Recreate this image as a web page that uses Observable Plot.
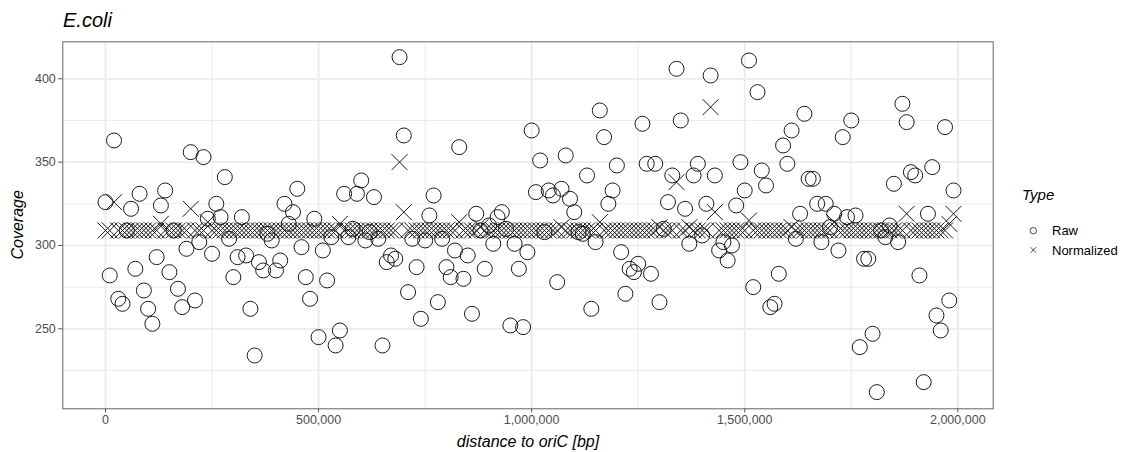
<!DOCTYPE html>
<html>
<head>
<meta charset="utf-8">
<script src="https://cdn.jsdelivr.net/npm/d3@7"></script>
<script src="https://cdn.jsdelivr.net/npm/@observablehq/plot@0.6"></script>
<style>
  html, body { margin: 0; padding: 0; background: #fff; }
  #chart { position: relative; width: 1130px; height: 452px; }
</style>
</head>
<body>
<div id="chart"></div>
<script>
// ---- data (distance to oriC in bp, coverage) ----
const distance = [
  0, 10000, 20000, 30000, 40000, 50000, 60000, 70000, 80000, 90000,
  100000, 110000, 120000, 130000, 140000, 150000, 160000, 170000, 180000, 190000,
  200000, 210000, 220000, 230000, 240000, 250000, 260000, 270000, 280000, 290000,
  300000, 310000, 320000, 330000, 340000, 350000, 360000, 370000, 380000, 390000,
  400000, 410000, 420000, 430000, 440000, 450000, 460000, 470000, 480000, 490000,
  500000, 510000, 520000, 530000, 540000, 550000, 560000, 570000, 580000, 590000,
  600000, 610000, 620000, 630000, 640000, 650000, 660000, 670000, 680000, 690000,
  700000, 710000, 720000, 730000, 740000, 750000, 760000, 770000, 780000, 790000,
  800000, 810000, 820000, 830000, 840000, 850000, 860000, 870000, 880000, 890000,
  900000, 910000, 920000, 930000, 940000, 950000, 960000, 970000, 980000, 990000,
  1000000, 1010000, 1020000, 1030000, 1040000, 1050000, 1060000, 1070000, 1080000, 1090000,
  1100000, 1110000, 1120000, 1130000, 1140000, 1150000, 1160000, 1170000, 1180000, 1190000,
  1200000, 1210000, 1220000, 1230000, 1240000, 1250000, 1260000, 1270000, 1280000, 1290000,
  1300000, 1310000, 1320000, 1330000, 1340000, 1350000, 1360000, 1370000, 1380000, 1390000,
  1400000, 1410000, 1420000, 1430000, 1440000, 1450000, 1460000, 1470000, 1480000, 1490000,
  1500000, 1510000, 1520000, 1530000, 1540000, 1550000, 1560000, 1570000, 1580000, 1590000,
  1600000, 1610000, 1620000, 1630000, 1640000, 1650000, 1660000, 1670000, 1680000, 1690000,
  1700000, 1710000, 1720000, 1730000, 1740000, 1750000, 1760000, 1770000, 1780000, 1790000,
  1800000, 1810000, 1820000, 1830000, 1840000, 1850000, 1860000, 1870000, 1880000, 1890000,
  1900000, 1910000, 1920000, 1930000, 1940000, 1950000, 1960000, 1970000, 1980000, 1990000
];

const rawCoverage = [
  326, 282, 363, 268, 265, 309, 322, 286, 331, 273,
  262, 253, 293, 324, 333, 284, 309, 274, 263, 298,
  356, 267, 302, 353, 316, 295, 325, 317, 341, 304,
  281, 293, 317, 294, 262, 234, 290, 285, 307, 303,
  285, 291, 325, 313, 320, 334, 299, 281, 268, 316,
  245, 297, 279, 305, 240, 249, 331, 305, 310, 331,
  339, 303, 308, 329, 304, 240, 290, 294, 292, 413,
  366, 272, 304, 287, 256, 303, 318, 330, 266, 304,
  287, 281, 297, 359, 280, 294, 259, 319, 309, 286,
  312, 301, 317, 320, 310, 252, 301, 286, 251, 296,
  369, 332, 351, 308, 333, 330, 278, 334, 354, 328,
  320, 308, 307, 342, 262, 302, 381, 365, 325, 333,
  348, 296, 271, 286, 284, 289, 373, 349, 283, 349,
  266, 310, 326, 342, 406, 375, 322, 301, 342, 349,
  306, 325, 402, 342, 297, 302, 291, 300, 324, 350,
  333, 411, 275, 392, 345, 336, 263, 265, 283, 360,
  349, 369, 304, 319, 379, 340, 340, 325, 302, 325,
  311, 319, 297, 365, 317, 375, 318, 239, 292, 292,
  247, 212, 309, 305, 312, 337, 302, 385, 374, 344,
  342, 282, 218, 319, 347, 258, 249, 371, 267, 333
];

const normalizedCoverage = [
  309, 309, 326, 309, 309, 309, 309, 309, 309, 309,
  309, 309, 309, 313, 309, 309, 309, 309, 309, 309,
  322, 309, 309, 309, 314, 309, 309, 309, 309, 309,
  309, 309, 309, 309, 309, 309, 309, 309, 309, 309,
  309, 309, 309, 309, 309, 309, 309, 309, 309, 309,
  309, 309, 309, 309, 309, 313, 309, 309, 309, 309,
  309, 309, 309, 309, 309, 309, 309, 309, 309, 350,
  320, 309, 309, 309, 309, 309, 309, 309, 309, 309,
  309, 309, 309, 314, 309, 309, 309, 309, 311, 309,
  309, 309, 309, 309, 309, 309, 309, 309, 309, 309,
  309, 309, 309, 309, 309, 309, 309, 311, 309, 309,
  309, 309, 309, 309, 309, 309, 314, 309, 309, 309,
  309, 309, 309, 309, 309, 309, 309, 309, 309, 309,
  311, 309, 309, 309, 338, 309, 309, 311, 309, 309,
  309, 309, 383, 320, 309, 309, 309, 309, 309, 309,
  309, 315, 309, 309, 309, 309, 309, 309, 309, 309,
  309, 311, 309, 309, 309, 309, 309, 309, 309, 309,
  309, 314, 309, 309, 309, 309, 309, 309, 309, 309,
  309, 309, 309, 309, 309, 309, 309, 309, 319, 309,
  309, 309, 309, 309, 309, 309, 309, 309, 313, 319
];

const xTicks = [0, 500000, 1000000, 1500000, 2000000];
const xMinor = [250000, 750000, 1250000, 1750000];
const yTicks = [250, 300, 350, 400];
const yMinor = [225, 275, 325, 375];
const typeLabels = ["Raw", "Normalized"];

// ---- build rows ----
const rows = [];
distance.forEach((d, i) => {
  rows.push({distance: d, coverage: rawCoverage[i], type: typeLabels[0]});
  rows.push({distance: d, coverage: normalizedCoverage[i], type: typeLabels[1]});
});
const rawRows = rows.filter(r => r.type === "Raw");
const normRows = rows.filter(r => r.type === "Normalized");

const FONT = "'Liberation Sans', Arial, Helvetica, sans-serif";
const INK = "#1a1a1a";

const plot = Plot.plot({
  width: 1130,
  height: 452,
  marginLeft: 62.3,
  marginRight: 137.3,
  marginTop: 41.3,
  marginBottom: 43.7,
  style: {fontFamily: FONT, fontSize: "12.5px", color: "#4d4d4d", background: "#fff"},
  x: {domain: [-100200, 2083100], label: null},
  y: {domain: [202, 422.2], label: null},
  marks: [
    Plot.gridX(xMinor, {stroke: "#ebebeb", strokeOpacity: 1, strokeWidth: 1}),
    Plot.gridY(yMinor, {stroke: "#ebebeb", strokeOpacity: 1, strokeWidth: 1}),
    Plot.gridX(xTicks, {stroke: "#ebebeb", strokeOpacity: 1, strokeWidth: 1.8}),
    Plot.gridY(yTicks, {stroke: "#ebebeb", strokeOpacity: 1, strokeWidth: 1.8}),
    Plot.dot(rawRows, {x: "distance", y: "coverage", r: 7.5, stroke: INK, strokeWidth: 1, fill: "none"}),
    Plot.dot(normRows, {x: "distance", y: "coverage", symbol: "times", r: 7.3, stroke: INK, strokeWidth: 1}),
    Plot.frame({stroke: "#666", strokeWidth: 1}),
    Plot.axisX(xTicks, {tickFormat: d3.format(","), tickSize: 4, tickPadding: 2, label: null, stroke: "#555", fill: "#4d4d4d"}),
    Plot.axisY(yTicks, {tickSize: 4, tickPadding: 3, label: null, stroke: "#555", fill: "#4d4d4d"})
  ]
});

const svg = d3.select(plot);
// title
svg.append("text").attr("x", 63).attr("y", 26.7).attr("text-anchor", "start")
  .attr("font-family", FONT).attr("font-size", 20).attr("font-style", "italic").attr("fill", "#000")
  .text("E.coli");
// x axis title
svg.append("text").attr("x", 528).attr("y", 447).attr("text-anchor", "middle")
  .attr("font-family", FONT).attr("font-size", 16).attr("font-style", "italic").attr("fill", "#000")
  .text("distance to oriC [bp]");
// y axis title
svg.append("text").attr("transform", "translate(22.5,224.8) rotate(-90)").attr("text-anchor", "middle")
  .attr("font-family", FONT).attr("font-size", 16).attr("font-style", "italic").attr("fill", "#000")
  .text("Coverage");
// legend
const lg = svg.append("g").attr("font-family", FONT).attr("text-anchor", "start");
lg.append("text").attr("x", 1022).attr("y", 199.5).attr("text-anchor", "start").attr("font-size", 15).attr("font-style", "italic").attr("fill", "#000").text("Type");
lg.append("circle").attr("cx", 1033.3).attr("cy", 230.7).attr("r", 3.2).attr("fill", "none").attr("stroke", INK).attr("stroke-width", 0.8);
lg.append("path").attr("d", "M1030.5,247.2L1036.1,252.8M1030.5,252.8L1036.1,247.2").attr("stroke", INK).attr("stroke-width", 0.8);
lg.append("text").attr("x", 1052).attr("y", 235).attr("text-anchor", "start").attr("font-size", 13).attr("fill", "#000").text(typeLabels[0]);
lg.append("text").attr("x", 1052).attr("y", 254.5).attr("text-anchor", "start").attr("font-size", 13).attr("fill", "#000").text(typeLabels[1]);

document.getElementById("chart").appendChild(plot);
</script>
</body>
</html>
